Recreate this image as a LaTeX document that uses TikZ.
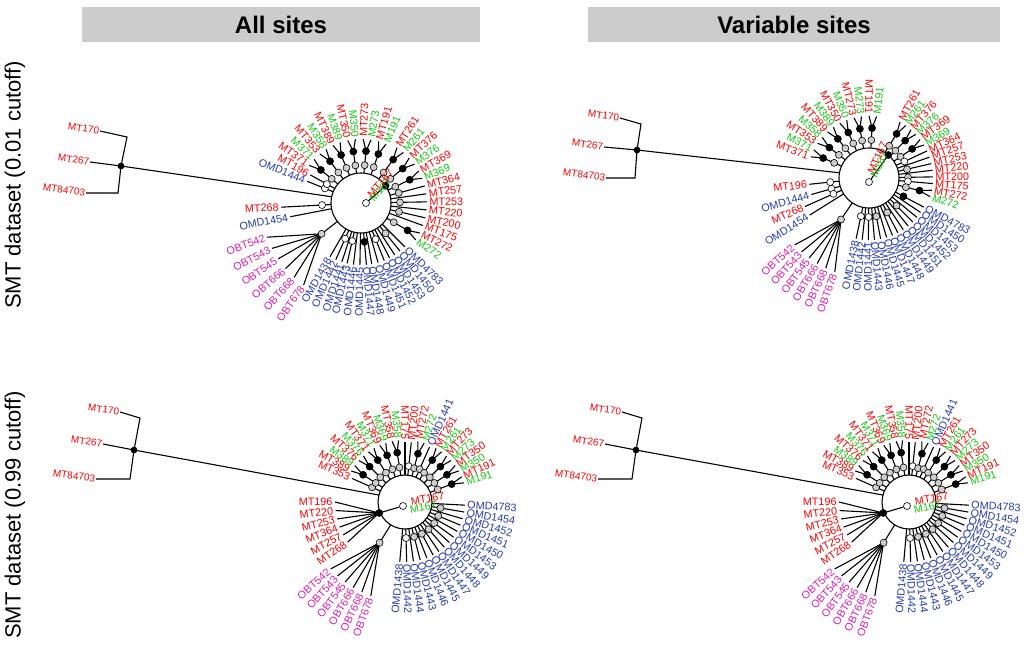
\documentclass[tikz,border=0pt]{standalone}
\usepackage{fontspec}
\setmainfont{Liberation Sans}
\definecolor{cr}{RGB}{255,0,0}
\definecolor{cg}{RGB}{20,200,20}
\definecolor{cb}{RGB}{40,60,175}
\definecolor{cm}{RGB}{225,30,170}
\definecolor{gbar}{RGB}{204,204,204}
\definecolor{gd}{RGB}{205,205,205}
\tikzset{
 br/.style={line width=1.1pt,black},
 lb/.style={font=\fontsize{10.8}{10.8}\selectfont,inner sep=0.8pt},
 olb/.style={font=\fontsize{10}{10}\selectfont,inner sep=0.8pt,text=cr,rotate=-8,anchor=east},
 dt/.style={circle,draw=black,line width=0.6pt,inner sep=0pt,minimum size=7pt},
 head/.style={font=\fontsize{24}{24}\selectfont\bfseries},
 row/.style={font=\fontsize{22}{22}\selectfont,rotate=90}
}
\newcounter{lbl}
\def\nn{n}
\newcommand\lab[4]{%
 \stepcounter{lbl}%
 \pgfmathsetmacro\na{-(#1)}%
 \pgfmathsetmacro\cc{cos(#1)}%
 \ifdim\cc pt>0.01pt
   \node[lb,text=#4,anchor=west,rotate=#1] (L\thelbl) at (\na:#2) {#3};
 \else
   \pgfmathsetmacro\ra{#1+180}%
   \node[lb,text=#4,anchor=east,rotate=\ra] (L\thelbl) at (\na:#2) {#3};
 \fi}
\newcommand\lf[5]{%
 \pgfmathsetmacro\nb{-(#1)}\pgfmathsetmacro\rr{#2+1.5}\pgfmathsetmacro\rd{\rz+9}%
 \draw[br] (\nb:\rz) -- (\nb:#2);
 \def\tmp{#5}\ifx\tmp\nn\else\node[dt,fill=#5] at (\nb:\rd) {};\fi
 \lab{#1}{\rr}{#3}{#4}}
\newcommand\pr[7]{%
 \pgfmathsetmacro\am{-(#1+#2)/2}\pgfmathsetmacro\rf{#3-12}%
 \pgfmathsetmacro\pa{-(#1)}\pgfmathsetmacro\pb{-(#2)}%
 \pgfmathsetmacro\rr{#3+1.5}\pgfmathsetmacro\rd{\rz+8}%
 \draw[br] (\am:\rz) -- (\am:\rf) -- (\pa:#3);
 \draw[br] (\am:\rf) -- (\pb:#3);
 \node[dt,fill=gd] at (\am:\rd) {};
 \node[dt,fill=black] at (\am:\rf) {};
 \lab{#1}{\rr}{#4}{#5}\lab{#2}{\rr}{#6}{#7}}
\newcommand\grp[6]{%
 \pgfmathsetmacro\sa{-(#1)}%
 \draw[br] (\sa:\rz) -- (\sa:#2) coordinate (gs);
 \foreach \a/\t in {#4} {%
   \pgfmathsetmacro\pa{-\a}\pgfmathsetmacro\rr{#5+1.5}%
   \draw[br] (gs) -- (\pa:#5);
   \lab{\a}{\rr}{\t}{#6}}
 \node[dt,fill=#3] at (gs) {};}
\newcommand\treeB{%
 \draw[br] (0,0) circle[radius=\rz pt];
 \lf{156}{58}{MT353}{cr}{gd}
 \pr{150}{144}{62}{MT389}{cr}{M389}{cg}
 \pr{138}{132}{62}{MT376}{cr}{M376}{cg}
 \pr{126}{120}{62}{MT371}{cr}{M371}{cg}
 \pr{114}{108}{62}{MT369}{cr}{M369}{cg}
 \pr{102}{96}{62}{MT358}{cr}{M358}{cg}
 \lf{90}{60}{MT175}{cr}{n}
 \lf{84}{60}{MT200}{cr}{white}
 \pr{78}{72}{62}{MT272}{cr}{M272}{cg}
 \lf{66}{60}{OMD1441}{cb}{gd}
 \pr{60}{54}{62}{MT261}{cr}{M261}{cg}
 \pr{48}{42}{62}{MT273}{cr}{M273}{cg}
 \pr{36}{30}{62}{MT350}{cr}{M350}{cg}
 \pr{24}{18}{62}{MT191}{cr}{M191}{cg}
 \lf{-3}{60}{OMD4783}{cb}{n}
 \lf{-9.6}{60}{OMD1454}{cb}{gd}
 \lf{-16.2}{60}{OMD1452}{cb}{n}
 \lf{-22.7}{60}{OMD1451}{cb}{gd}
 \lf{-29.3}{60}{OMD1450}{cb}{n}
 \lf{-35.9}{60}{OMD1453}{cb}{gd}
 \lf{-42.4}{60}{OMD1449}{cb}{n}
 \lf{-49}{60}{OMD1448}{cb}{gd}
 \lf{-55.6}{60}{OMD1447}{cb}{n}
 \lf{-62.1}{60}{OMD1445}{cb}{gd}
 \lf{-68.7}{60}{OMD1446}{cb}{n}
 \lf{-75.3}{60}{OMD1443}{cb}{gd}
 \lf{-81.9}{60}{OMD1444}{cb}{n}
 \lf{-88.4}{60}{OMD1442}{cb}{white}
 \lf{-95}{60}{OMD1438}{cb}{n}
 \grp{238}{48}{gd}{222/OBT542,227.6/OBT543,233.2/OBT545,238.8/OBT666,244.4/OBT668,250/OBT678}{100}{cm}
 \grp{203}{28}{black}{180/MT196,187/MT220,194/MT253,201/MT364,208/MT257,215/MT268}{70}{cr}
 \node[dt,fill=white] (w) at (-2,4) {};
 \draw[br] (w) -- (gs);
 \node[lb,text=cg,anchor=west,rotate=10] (m167) at (4,8) {M167};
 \node[lb,text=cr,anchor=west,rotate=10] (mt167) at (5,0) {MT167};
}
\begin{document}
\begin{tikzpicture}[x=1pt,y=-1pt]
\useasboundingbox (0,0) rectangle (1024,657);
\fill[gbar] (82,7) rectangle (480,42);
\fill[gbar] (588,7) rectangle (1000,42);
\node[head] (h1) at (281,25) {All sites};
\node[head] (h2) at (794,25) {Variable sites};
\node[row] (r1) at (15,185) {SMT dataset (0.01 cutoff)};
\node[row] (r2) at (15,515) {SMT dataset (0.99 cutoff)};

% ---------- Tree 1 ----------
\begin{scope}[shift={(361,203)}]
 \def\rz{30}
 \draw[br] (0,0) circle[radius=30pt];
 \coordinate (c1) at (-168:30);
 \lf{158}{58}{OMD1444}{cb}{white}
 \lf{151}{58}{MT196}{cr}{white}
 \pr{144}{137}{64}{MT371}{cr}{M371}{cg}
 \pr{130}{123}{64}{MT353}{cr}{M358}{cg}
 \pr{116}{109}{64}{MT389}{cr}{M389}{cg}
 \pr{102}{95}{64}{MT350}{cr}{M350}{cg}
 \pr{88}{81}{64}{MT273}{cr}{M273}{cg}
 \pr{74}{67}{64}{MT191}{cr}{M191}{cg}
 \pr{57}{50}{66}{MT261}{cr}{M261}{cg}
 \pr{43}{36}{66}{MT376}{cr}{M376}{cg}
 \pr{29}{22}{66}{MT369}{cr}{M369}{cg}
 \lf{15}{66}{MT364}{cr}{gd}
 \lf{8}{66}{MT257}{cr}{n}
 \lf{1}{66}{MT253}{cr}{gd}
 \lf{-6}{66}{MT220}{cr}{n}
 \lf{-13}{66}{MT200}{cr}{gd}
 \lf{-20}{66}{MT175}{cr}{n}
 \pr{-27}{-34}{66}{MT272}{cr}{M272}{cg}
 \lf{-45}{62}{OMD4783}{cb}{n}
 \lf{-51}{62}{OMD1450}{cb}{gd}
 \lf{-57}{62}{OMD1453}{cb}{n}
 \lf{-62.5}{62}{OMD1452}{cb}{n}
 \lf{-68}{62}{OMD1451}{cb}{white}
 \lf{-74}{62}{OMD1449}{cb}{n}
 \lf{-80}{62}{OMD1448}{cb}{n}
 \lf{-85}{62}{OMD1447}{cb}{black}
 \lf{-91}{62}{OMD1445}{cb}{n}
 \lf{-97}{62}{OMD1446}{cb}{n}
 \lf{-103}{62}{OMD1443}{cb}{white}
 \lf{-108}{62}{OMD1441}{cb}{n}
 \lf{-114}{62}{OMD1442}{cb}{white}
 \lf{-120}{62}{OMD1438}{cb}{n}
 \grp{218}{50}{gd}{200/OBT542,207/OBT543,214/OBT545,221/OBT666,228/OBT668,235/OBT678}{100}{cm}
 \lf{191}{72}{OMD1454}{cb}{n}
 \lf{183}{80}{MT268}{cr}{white}
 \node[dt,fill=white] (w1) at (5,0) {};
 \node[dt,fill=black] (b1) at (-35:30) {};
 \draw[br] (w1) -- (b1);
 \node[lb,text=cg,anchor=west,rotate=50] (g167a) at (10,-2) {M167};
 \node[lb,text=cr,anchor=west,rotate=50] (r167a) at (8,-6) {MT167};
\end{scope}
\node[dt,fill=black,minimum size=6pt] (n1) at (121,166) {};
\node[olb] (o1a) at (100,131) {MT170};
\node[olb] (o1b) at (90,162) {MT267};
\node[olb] (o1c) at (86,193) {MT84703};
\coordinate (k1a) at (127,137); \coordinate (k1c) at (118,193);
\draw[br] (o1a.east) -- (k1a) -- (n1.center);
\draw[br] (o1b.east) -- (n1.center);
\draw[br] (o1c.east) -- (k1c) -- (n1.center);
\draw[br] (n1.center) -- (c1);

% ---------- Tree 2 ----------
\begin{scope}[shift={(869,178)}]
 \def\rz{30}
 \draw[br] (0,0) circle[radius=30pt];
 \coordinate (c2) at (-170:30);
 \pr{160}{153}{62}{MT371}{cr}{M371}{cg}
 \pr{146}{139}{62}{MT353}{cr}{M358}{cg}
 \pr{132}{125}{62}{MT389}{cr}{M389}{cg}
 \pr{118}{111}{62}{MT350}{cr}{M350}{cg}
 \pr{104}{97}{62}{MT273}{cr}{M273}{cg}
 \pr{90}{83}{62}{MT191}{cr}{M191}{cg}
 \pr{61}{55}{64}{MT261}{cr}{M261}{cg}
 \pr{49}{43}{64}{MT376}{cr}{M376}{cg}
 \pr{37}{31}{64}{MT369}{cr}{M369}{cg}
 \lf{25}{64}{MT364}{cr}{white}
 \lf{19}{64}{MT257}{cr}{n}
 \lf{13}{64}{MT253}{cr}{gd}
 \lf{7}{64}{MT220}{cr}{n}
 \lf{1}{64}{MT200}{cr}{gd}
 \lf{-5}{64}{MT175}{cr}{white}
 \pr{-11}{-17}{64}{MT272}{cr}{M272}{cg}
 \lf{-28}{62}{OMD4783}{cb}{black}
 \lf{-33.7}{62}{OMD1450}{cb}{n}
 \lf{-39.4}{62}{OMD1453}{cb}{n}
 \lf{-45.1}{62}{OMD1452}{cb}{gd}
 \lf{-50.8}{62}{OMD1451}{cb}{n}
 \lf{-56.5}{62}{OMD1449}{cb}{n}
 \lf{-62.2}{62}{OMD1448}{cb}{gd}
 \lf{-67.8}{62}{OMD1447}{cb}{n}
 \lf{-73.5}{62}{OMD1445}{cb}{n}
 \lf{-79.2}{62}{OMD1446}{cb}{gd}
 \lf{-84.9}{62}{OMD1443}{cb}{n}
 \lf{-90.6}{62}{OMD1441}{cb}{white}
 \lf{-96.3}{62}{OMD1442}{cb}{n}
 \lf{-102}{62}{OMD1438}{cb}{white}
 \grp{236}{50}{gd}{222/OBT542,227.6/OBT543,233.2/OBT545,238.8/OBT666,244.4/OBT668,250/OBT678}{100}{cm}
 \lf{186}{60}{MT196}{cr}{white}
 \lf{196}{60}{OMD1444}{cb}{white}
 \lf{204}{70}{MT268}{cr}{white}
 \lf{212}{70}{OMD1454}{cb}{n}
 \node[dt,fill=white] (w2) at (0,4) {};
 \node[dt,fill=black] (b2) at (-50:30) {};
 \draw[br] (w2) -- (b2);
 \node[lb,text=cg,anchor=west,rotate=65] (g167b) at (4,0) {M167};
 \node[lb,text=cr,anchor=west,rotate=65] (r167b) at (1,-4) {MT167};
\end{scope}
\node[dt,fill=black,minimum size=6pt] (n2) at (637,150) {};
\node[olb] (o2a) at (620,118) {MT170};
\node[olb] (o2b) at (604,147) {MT267};
\node[olb] (o2c) at (606,178) {MT84703};
\coordinate (k2a) at (641,124); \coordinate (k2c) at (635,178);
\draw[br] (o2a.east) -- (k2a) -- (n2.center);
\draw[br] (o2b.east) -- (n2.center);
\draw[br] (o2c.east) -- (k2c) -- (n2.center);
\draw[br] (n2.center) -- (c2);

% ---------- Tree 3 ----------
\begin{scope}[shift={(405,502)}]
 \def\rz{27}
 \coordinate (c3) at (-165:27);
 \treeB
\end{scope}
\node[dt,fill=black,minimum size=6pt] (n3) at (134,450) {};
\node[olb] (o3a) at (120,412) {MT170};
\node[olb] (o3b) at (103,444) {MT267};
\node[olb] (o3c) at (96,479) {MT84703};
\coordinate (k3a) at (140,418); \coordinate (k3c) at (130,479);
\draw[br] (o3a.east) -- (k3a) -- (n3.center);
\draw[br] (o3b.east) -- (n3.center);
\draw[br] (o3c.east) -- (k3c) -- (n3.center);
\draw[br] (n3.center) -- (c3);

% ---------- Tree 4 ----------
\begin{scope}[shift={(909,502)}]
 \def\rz{27}
 \coordinate (c4) at (-165:27);
 \treeB
\end{scope}
\node[dt,fill=black,minimum size=6pt] (n4) at (636,450) {};
\node[olb] (o4a) at (622,412) {MT170};
\node[olb] (o4b) at (605,444) {MT267};
\node[olb] (o4c) at (598,479) {MT84703};
\coordinate (k4a) at (642,418); \coordinate (k4c) at (632,479);
\draw[br] (o4a.east) -- (k4a) -- (n4.center);
\draw[br] (o4b.east) -- (n4.center);
\draw[br] (o4c.east) -- (k4c) -- (n4.center);
\draw[br] (n4.center) -- (c4);
\end{tikzpicture}
\end{document}
